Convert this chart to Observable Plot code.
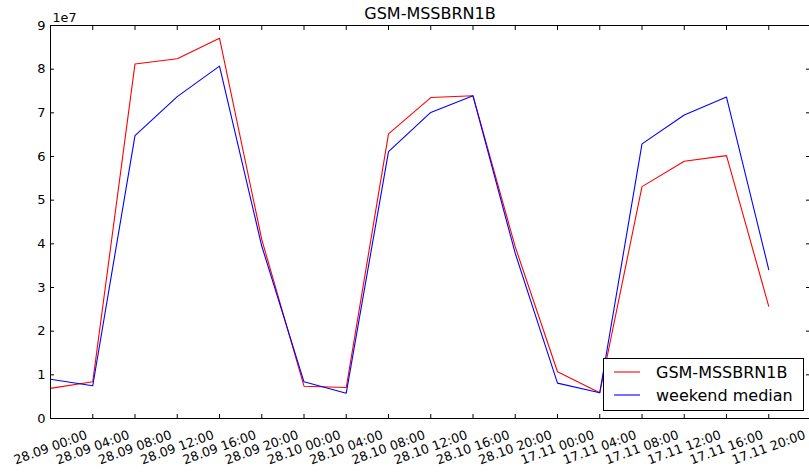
<!DOCTYPE html>
<html>
<head>
<meta charset="utf-8">
<script src="https://cdn.jsdelivr.net/npm/d3@7"></script>
<script src="https://cdn.jsdelivr.net/npm/@observablehq/plot@0.6"></script>
<style>
  html, body { margin: 0; padding: 0; background: #fff; overflow: hidden; }
  #chart svg { display: block; }
</style>
</head>
<body>
<div id="chart"></div>
<script>
// Four-hourly traffic for the cell, with the weekend median for comparison (units of 1e7)
const timeLabels = [
  "28.09 00:00", "28.09 04:00", "28.09 08:00", "28.09 12:00", "28.09 16:00", "28.09 20:00",
  "28.10 00:00", "28.10 04:00", "28.10 08:00", "28.10 12:00", "28.10 16:00", "28.10 20:00",
  "17.11 00:00", "17.11 04:00", "17.11 08:00", "17.11 12:00", "17.11 16:00", "17.11 20:00"
];
const cellTraffic   = [0.69, 0.84, 8.12, 8.24, 8.71, 4.10, 0.74, 0.71, 6.52, 7.35, 7.39, 3.93, 1.07, 0.59, 5.31, 5.89, 6.02, 2.57];
const weekendMedian = [0.90, 0.75, 6.48, 7.37, 8.07, 3.95, 0.84, 0.58, 6.11, 7.01, 7.39, 3.78, 0.81, 0.59, 6.29, 6.95, 7.36, 3.41];
const seriesNames = ["GSM-MSSBRN1B", "weekend median"];
const seriesColors = ["#ff0000", "#0000ff"];
const yTickLabels = [0, 1, 2, 3, 4, 5, 6, 7, 8, 9];
const exponent = 1e7;

const rows = (values, series) => values.map((v, i) => ({i, value: v * exponent, series}));
const data = [...rows(cellTraffic, seriesNames[0]), ...rows(weekendMedian, seriesNames[1])];
const yTicks = yTickLabels.map(d => d * exponent);
const xTicks = d3.range(timeLabels.length + 1);

const font = "DejaVu Sans";

const chart = Plot.plot({
  width: 809,
  height: 476,
  marginLeft: 50,
  marginTop: 25,
  marginRight: 0,
  marginBottom: 58,
  style: {fontFamily: font, fontSize: "13px", background: "white", color: "black", overflow: "hidden"},
  x: {domain: [0, timeLabels.length], range: [50, 810.5]},
  y: {domain: [0, 9 * exponent], range: [418, 25]},
  color: {domain: seriesNames, range: seriesColors},
  marks: [
    Plot.line(data, {x: "i", y: "value", z: "series", stroke: "series", strokeWidth: 1.1}),
    Plot.frame({stroke: "black", strokeWidth: 1}),
    // inward ticks on all four sides
    Plot.axisY(yTicks, {anchor: "left", tickSize: -4, tickPadding: 9, tickFormat: d => d / exponent, label: null, fontSize: 13}),
    Plot.axisY(yTicks, {anchor: "right", tickSize: -4, tickFormat: () => "", label: null}),
    Plot.axisX(xTicks, {anchor: "bottom", tickSize: -4, tickFormat: () => "", label: null}),
    Plot.axisX(xTicks, {anchor: "top", tickSize: -4, tickFormat: () => "", label: null}),
    // rotated time labels
    Plot.text(timeLabels, {x: (d, i) => i, frameAnchor: "bottom", dy: 29, rotate: -20,
      textAnchor: "middle", lineAnchor: "middle", fontSize: 12.7, fill: "black"}),
    // axis offset and title
    Plot.text(["1e7"], {frameAnchor: "top-left", dx: 2, dy: -8, textAnchor: "start", lineAnchor: "middle", fontSize: 12.7, fill: "black"}),
    Plot.text(["GSM-MSSBRN1B"], {frameAnchor: "top", dy: -12, lineAnchor: "middle", fontSize: 16, fill: "black"})
  ]
});

document.getElementById("chart").appendChild(chart);

// legend box in the lower right of the axes
const svg = d3.select(chart);
const legend = svg.append("g")
  .attr("font-family", font).attr("font-size", 16).attr("text-anchor", "start");
legend.append("rect")
  .attr("x", 603.5).attr("y", 358.5).attr("width", 200).attr("height", 52)
  .attr("fill", "white").attr("stroke", "black").attr("stroke-width", 1);
seriesNames.forEach((name, k) => {
  const y = 372 + k * 23;
  legend.append("line")
    .attr("x1", 614).attr("x2", 640).attr("y1", y).attr("y2", y)
    .attr("stroke", seriesColors[k]).attr("stroke-width", 1.1);
  legend.append("text")
    .attr("x", 656).attr("y", y).attr("dy", "0.35em")
    .attr("text-anchor", "start")
    .attr("fill", "black").text(name);
});
</script>
</body>
</html>
